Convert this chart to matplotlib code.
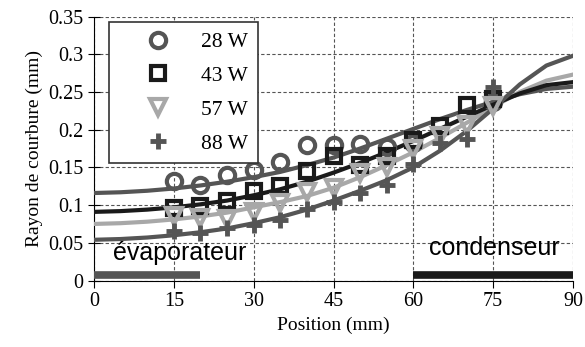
import matplotlib
matplotlib.use("Agg")
import matplotlib.pyplot as plt

# plot colors
dark_gray = "#555555"
black = "#1a1a1a"
light_gray = "#a8a8a8"

# measured points
position = [15, 20, 25, 30, 35, 40, 45, 50, 55, 60, 65, 70, 75]
pos_28w = [15, 20, 25, 30, 35, 40, 45, 50, 55, 60, 75]
r_28w = [0.132, 0.127, 0.140, 0.147, 0.157, 0.180, 0.180, 0.181, 0.177, 0.182, 0.237]
r_43w = [0.096, 0.099, 0.106, 0.119, 0.125, 0.145, 0.165, 0.153, 0.165, 0.186, 0.205, 0.233, 0.240]
r_57w = [0.086, 0.083, 0.081, 0.091, 0.103, 0.118, 0.122, 0.142, 0.151, 0.174, 0.192, 0.206, 0.232]
r_88w = [0.065, 0.063, 0.070, 0.074, 0.080, 0.095, 0.104, 0.116, 0.127, 0.155, 0.182, 0.188, 0.256]

# fitted curves, read every 5 mm
fit_x = [0, 5, 10, 15, 20, 25, 30, 35, 40, 45, 50, 55, 60, 65, 70, 75, 80, 85, 90]
fit_28w = [0.116, 0.117, 0.119, 0.122, 0.126, 0.131, 0.137, 0.144, 0.153, 0.163, 0.175,
           0.188, 0.201, 0.214, 0.226, 0.237, 0.247, 0.254, 0.257]
fit_43w = [0.091, 0.092, 0.094, 0.097, 0.101, 0.106, 0.113, 0.121, 0.131, 0.143, 0.156,
           0.170, 0.185, 0.201, 0.217, 0.233, 0.248, 0.259, 0.263]
fit_57w = [0.075, 0.076, 0.078, 0.081, 0.085, 0.090, 0.097, 0.104, 0.112, 0.123, 0.137,
           0.153, 0.170, 0.189, 0.209, 0.230, 0.250, 0.265, 0.273]
fit_88w = [0.054, 0.055, 0.057, 0.060, 0.064, 0.069, 0.076, 0.084, 0.094, 0.106, 0.119,
           0.133, 0.150, 0.172, 0.198, 0.228, 0.260, 0.285, 0.298]

labels = ["28 W", "43 W", "57 W", "88 W"]

serif = ["Liberation Serif", "DejaVu Serif"]
sans = ["Liberation Sans", "DejaVu Sans"]

fig = plt.figure(figsize=(5.85, 3.47), dpi=100)
ax = fig.add_axes([0.1607, 0.1916, 0.8188, 0.7608])

lw = 3.0
ax.plot(fit_x, fit_28w, color=dark_gray, linewidth=lw, zorder=3)
ax.plot(fit_x, fit_57w, color=light_gray, linewidth=lw, zorder=3)
ax.plot(fit_x, fit_43w, color=black, linewidth=lw, zorder=3)
ax.plot(fit_x, fit_88w, color=dark_gray, linewidth=lw, zorder=3)

h1, = ax.plot(pos_28w, r_28w, "o", mfc="none", mec=dark_gray, ms=11, mew=3, zorder=4)
h2, = ax.plot(position, r_43w, "s", mfc="none", mec=black, ms=9.5, mew=3, zorder=4)
h3, = ax.plot(position, r_57w, "v", mfc="none", mec=light_gray, ms=11, mew=3, zorder=4)
h4, = ax.plot(position, r_88w, "+", mec=dark_gray, ms=11, mew=3.5, zorder=4)

# evaporator / condenser zones
ax.plot([0, 20], [0.007, 0.007], color=dark_gray, linewidth=5.5, solid_capstyle="butt", zorder=5)
ax.plot([60, 90], [0.007, 0.007], color=black, linewidth=5.5, solid_capstyle="butt", zorder=5)
ax.text(3.5, 0.037, "évaporateur", family=sans, fontsize=18, ha="left", va="center")
ax.text(87.6, 0.043, "condenseur", family=sans, fontsize=18, ha="right", va="center")

ax.set_xlim(0, 90)
ax.set_ylim(0, 0.35)
ax.set_xticks([0, 15, 30, 45, 60, 75, 90])
ax.set_yticks([0, 0.05, 0.1, 0.15, 0.2, 0.25, 0.3, 0.35])
ax.set_yticklabels(["0", "0.05", "0.1", "0.15", "0.2", "0.25", "0.3", "0.35"])
ax.grid(True, linestyle=(0, (3, 2)), color="#555555", linewidth=0.8)
ax.set_axisbelow(True)
for side in ["top", "right"]:
    ax.spines[side].set_visible(False)
ax.tick_params(axis="both", direction="out", length=5, labelsize=14.5)
ax.tick_params(axis="y", direction="inout", length=8)
for lbl in ax.get_xticklabels() + ax.get_yticklabels():
    lbl.set_family(serif)

ax.set_xlabel("Position (mm)", family=serif, fontsize=14)
ax.set_ylabel("Rayon de courbure (mm)", family=serif, fontsize=14)

leg = ax.legend([h1, h2, h3, h4], labels, loc="upper left", bbox_to_anchor=(0.031, 0.978),
                prop={"family": serif, "size": 15.5}, frameon=True, fancybox=False,
                edgecolor="#333333", framealpha=1, handletextpad=0.15, borderpad=0.45,
                labelspacing=0.64, handlelength=3.7, borderaxespad=0)
leg.get_frame().set_linewidth(1.2)

plt.savefig("out.png", dpi=100)
